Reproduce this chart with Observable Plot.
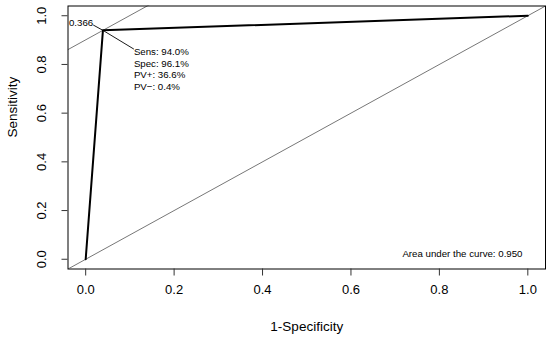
<!DOCTYPE html>
<html>
<head>
<meta charset="utf-8">
<script src="https://cdn.jsdelivr.net/npm/d3@7"></script>
<script src="https://cdn.jsdelivr.net/npm/@observablehq/plot@0.6"></script>
<style>
  html, body { margin: 0; padding: 0; background: #fff; }
  svg { display: block; font-family: "Liberation Sans", Arial, sans-serif; }
</style>
</head>
<body>
<div id="chart"></div>
<script>
// ROC curve data (1-Specificity, Sensitivity)
const fpr = [0, 0.039, 1];
const sens = [0, 0.94, 1];
// Optimal cut-off point
const optFpr = 0.039;
const optSens = 0.94;
const cutoffLabel = "0.366";
const statsLabels = ["Sens: 94.0%", "Spec: 96.1%", "PV+: 36.6%", "PV\u2212: 0.4%"];
const aucLabel = "Area under the curve: 0.950";
const tickValues = [0, 0.2, 0.4, 0.6, 0.8, 1.0];
const xTitle = "1-Specificity";
const yTitle = "Sensitivity";

const dom = [-0.04, 1.04];
const curve = fpr.map((v, i) => ({x: v, y: sens[i]}));
const diag = dom.map(v => ({x: v, y: v}));
const youdenIntercept = optSens - optFpr;
const youden = dom.map(v => ({x: v, y: v + youdenIntercept}));

// annotation anchors, relative to the optimal point
const labelEnd = {x: optFpr - 0.022, y: optSens + 0.022};
const statsStart = {x: optFpr + 0.07, y: optSens - 0.077};

const font = "Liberation Sans, Arial, sans-serif";

const chart = Plot.plot({
  width: 550,
  height: 338,
  marginLeft: 67.5,
  marginRight: 5,
  marginTop: 5.5,
  marginBottom: 69.5,
  style: {fontFamily: font, background: "white"},
  x: {domain: dom, axis: null},
  y: {domain: dom, axis: null},
  marks: [
    // reference lines
    Plot.line(diag, {x: "x", y: "y", stroke: "#777", strokeWidth: 1, clip: true}),
    Plot.line(youden, {x: "x", y: "y", stroke: "#777", strokeWidth: 1, clip: true}),
    // ROC curve
    Plot.line(curve, {x: "x", y: "y", stroke: "black", strokeWidth: 2}),
    // annotation segments
    Plot.link([0], {x1: () => labelEnd.x, y1: () => labelEnd.y, x2: () => optFpr, y2: () => optSens, stroke: "black", strokeWidth: 0.9}),
    Plot.link([0], {x1: () => optFpr, y1: () => optSens, x2: () => statsStart.x, y2: () => statsStart.y, stroke: "black", strokeWidth: 0.9}),
    Plot.text([cutoffLabel], {x: () => labelEnd.x, y: () => labelEnd.y, text: d => d, textAnchor: "end", lineAnchor: "bottom", dy: 1, fontSize: 9.7, fill: "black"}),
    Plot.text([statsLabels.join("\n")], {x: () => statsStart.x, y: () => statsStart.y, text: d => d, textAnchor: "start", lineAnchor: "top", dy: -2, lineHeight: 1.19, fontSize: 9.7, fill: "black"}),
    Plot.text([aucLabel], {frameAnchor: "bottom-right", text: d => d, dx: -23, dy: -12.5, textAnchor: "end", fontSize: 9.7, fill: "black"}),
    // frame
    Plot.frame({stroke: "black", strokeWidth: 1}),
    // x axis
    Plot.tickX(tickValues, {x: d => d, frameAnchor: "bottom", insetTop: 0, y1: null, dy: 0, stroke: "none"}),
    Plot.axisX(tickValues, {tickSize: 7, tickPadding: 9, tickFormat: d => d.toFixed(1), fontSize: 13, stroke: "#333", fill: "black", label: null}),
    // y axis
    Plot.axisY(tickValues, {tickSize: 6, tickFormat: () => "", stroke: "#333", label: null}),
    Plot.text(tickValues, {y: d => d, frameAnchor: "left", text: d => d.toFixed(1), rotate: -90, dx: -26, textAnchor: "middle", lineAnchor: "middle", fontSize: 13, fill: "black"}),
    // titles
    Plot.text([xTitle], {frameAnchor: "bottom", text: d => d, dy: 57.5, lineAnchor: "middle", fontSize: 13.5, fill: "black"}),
    Plot.text([yTitle], {frameAnchor: "left", text: d => d, dx: -55.5, rotate: -90, lineAnchor: "middle", fontSize: 13.5, fill: "black"})
  ]
});
document.getElementById("chart").appendChild(chart);
</script>
</body>
</html>
